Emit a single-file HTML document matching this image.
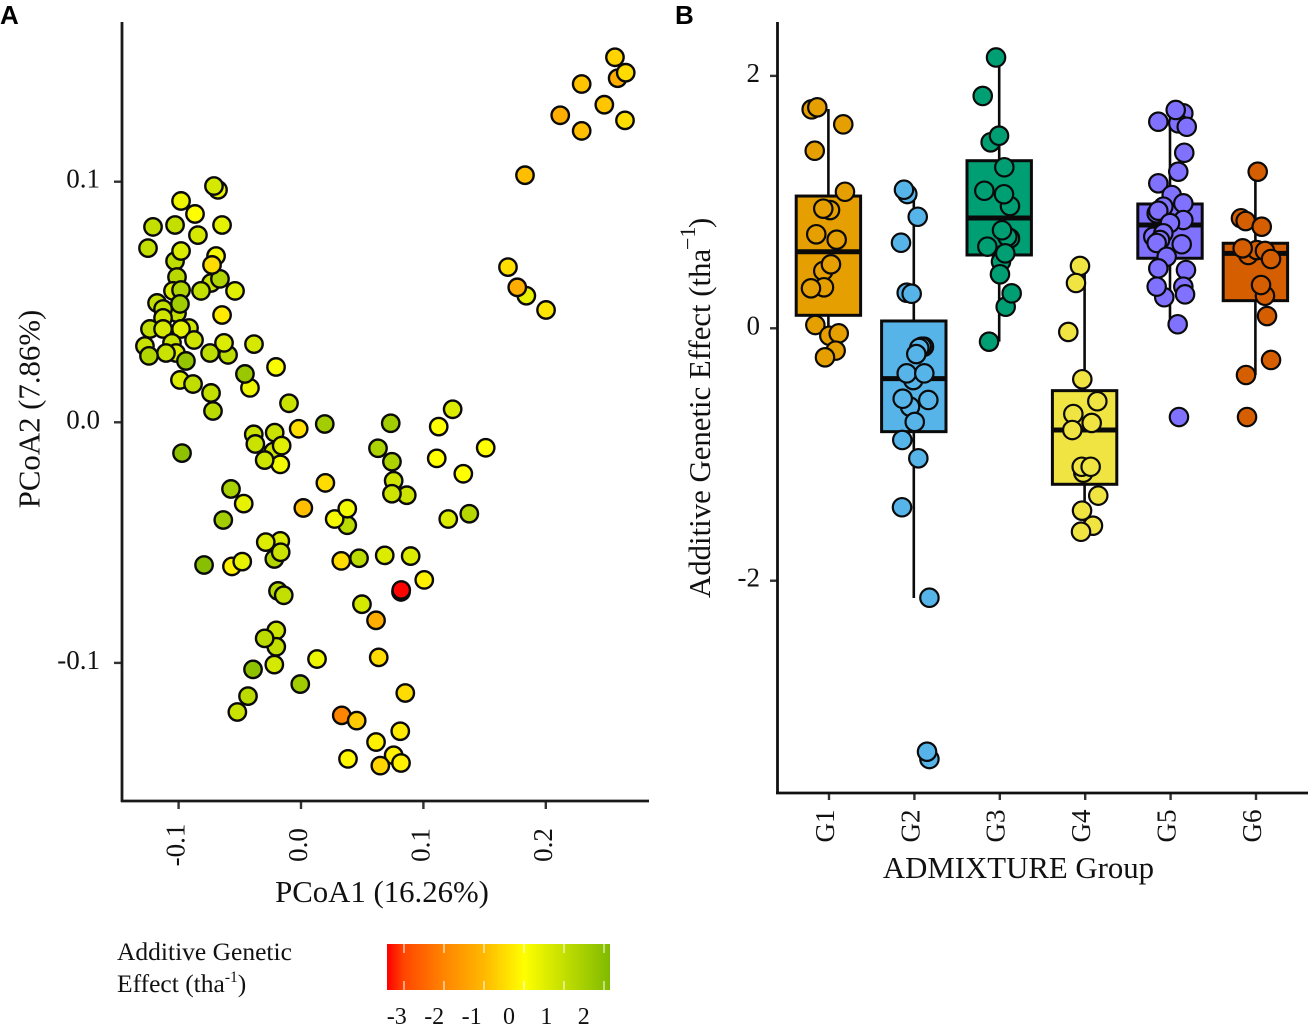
<!DOCTYPE html>
<html lang="en">
<head>
<meta charset="utf-8">
<title>PCoA and additive genetic effect by ADMIXTURE group</title>
<style>
html,body{margin:0;padding:0;background:#fff;}
svg{display:block;}
text{font-family:"Liberation Serif",serif;fill:#111;}
.tag{font-family:"Liberation Sans",sans-serif;font-weight:bold;font-size:26px;fill:#000;}
.title{font-size:30.8px;}
.tick{font-size:27px;}
.leg{font-size:25.5px;}
.legtick{font-size:24px;}
</style>
</head>
<body>
<svg id="fig" xmlns="http://www.w3.org/2000/svg" width="1312" height="1030" viewBox="0 0 1312 1030">
  <defs>
    <linearGradient id="legendGradient" gradientUnits="userSpaceOnUse" x1="387" x2="610" y1="0" y2="0"></linearGradient>
  </defs>
  <rect x="0" y="0" width="1312" height="1030" fill="#fff"/>

  <text class="tag" x="0" y="24">A</text>
  <text class="tag" x="675" y="24">B</text>

  <g id="panelA"></g>
  <line x1="122" y1="22" x2="122" y2="802" stroke="#1a1a1a" stroke-width="2.8"/>
  <line x1="121" y1="801" x2="649" y2="801" stroke="#1a1a1a" stroke-width="2.8"/>
  <text class="title" x="382" y="902" text-anchor="middle">PCoA1 (16.26%)</text>
  <text class="title" transform="translate(39.5,409) rotate(-90)" text-anchor="middle">PCoA2 (7.86%)</text>

  <g id="panelB"></g>
  <line x1="777.5" y1="22" x2="777.5" y2="794" stroke="#111" stroke-width="2.8"/>
  <line x1="776" y1="793" x2="1308" y2="793" stroke="#111" stroke-width="2.8"/>
  <text class="title" x="1018.5" y="878" text-anchor="middle">ADMIXTURE Group</text>
  <g>
    <text class="title" transform="translate(710,598) rotate(-90)">Additive Genetic Effect (tha</text>
    <text style="font-size:22px" transform="translate(695,250) rotate(-90)">−1</text>
    <text class="title" transform="translate(710,228) rotate(-90)">)</text>
  </g>

  <g>
    <text class="leg" x="117" y="960">Additive Genetic</text>
    <text class="leg" x="117" y="992">Effect (tha<tspan style="font-size:15.5px" dy="-10">-1</tspan><tspan dy="10">)</tspan></text>
    <rect x="387" y="944" width="223" height="46" fill="url(#legendGradient)"/>
    <g id="legendTicks"></g>
  </g>
</svg>
<script>
// ---------- Panel A data ----------
const pcoa1 = [
 .2587,.2565,.2653,.2293,.2478,.2118,.2293,.2647,.1830,.1691,.1841,.1767,.2002,
 -.0678,-.0711,-.0980,-.0866,-.1209,-.1029,-.0842,-.0645,-.1250,-.0694,-.1029,-.0980,-.1013,
 -.0735,-.0662,-.0727,-.0539,-.1046,-.0980,-.0817,-.1176,-.1013,-.1127,-.0989,-.0645,-.1127,
 -.1234,-.0915,-.1127,-.0980,-.0874,-.1054,-.1275,-.1021,-.0940,-.1103,-.1242,-.0596,-.0743,
 -.0629,-.0384,-.0204,-.0417,-.0458,-.0989,-.0882,-.0735,-.0719,-.0098,
 -.0386,-.0215,-.0226,-.0373,-.0169,-.0297,-.0158,-.0019,.0194,.0733,.0629,.0743,.0757,.0864,.0743,
 .1125,.1239,.1509,.1109,.1326,.1203,.1375,-.0972,-.0572,-.0468,-.0635,-.0792,-.0564,-.0480,
 .0199,.0019,.0378,.0275,.0378,-.0169,-.0218,-.0288,-.0166,.0329,.0474,.0684,.0896,.1007,.0817,.0819,
 -.0188,-.0141,.0498,.0613,.0635,.0131,-.0202,-.0202,-.0297,-.0218,-.0392,-.0006,-.0433,-.0520,
 .0852,.0333,.0455,.0811,.0613,.0384,.0757,.0648,.0817
];
const pcoa2 = [
 .1430,.1517,.1453,.1406,.1320,.1276,.1211,.1255,.1027,.0645,.0526,.0561,.0467,
 .0966,.0982,.0920,.0866,.0812,.0820,.0778,.0820,.0724,.0691,.0670,.0712,.0604,
 .0579,.0596,.0654,.0546,.0546,.0550,.0546,.0496,.0454,.0471,.0492,.0446,.0434,
 .0388,.0392,.0388,.0388,.0342,.0330,.0317,.0288,.0255,.0288,.0276,.0280,.0288,
 .0330,.0325,.0230,.0143,.0201,.0176,.0159,.0122,.0047,.0079,
 -.0050,-.0043,-.0122,-.0090,-.0175,-.0157,-.0097,-.0027,-.0007,-.0004,-.0108,-.0164,-.0243,-.0303,-.0297,
 -.0018,.0054,-.0106,-.0150,-.0214,-.0402,-.0380,-.0128,-.0277,-.0338,-.0406,-.0593,-.0599,-.0579,
 -.0252,-.0356,-.0428,-.0402,-.0359,-.0493,-.0568,-.0498,-.0540,-.0576,-.0565,-.0553,-.0556,-.0655,-.0705,-.0697,
 -.0701,-.0719,-.0756,-.0823,-.0977,-.0984,-.0865,-.0933,-.0898,-.1007,-.1027,-.1088,-.1138,-.1204,
 -.1125,-.1218,-.1240,-.1284,-.1329,-.1399,-.1384,-.1427,-.1416
];
const additiveEffect = [
 -1.2,-.6,-.5,-.85,-.8,-1.2,-.9,-.45,-.9,-.45,.4,-1.2,-.35,
 .35,.7,.3,0,1,1,.7,.45,1,.15,1.1,.6,1.2,
 .9,1.35,-.5,.5,.6,1.3,1,1,1,1,1.6,-.3,.8,
 1,.8,.7,.45,.8,.9,.9,.6,1.8,.9,1.3,1.1,1.1,
 .6,.7,.1,.3,1.7,.6,1.05,1,1.15,.9,
 .9,.9,.9,.9,.2,.85,.5,-.45,1.55,1.6,1.4,1.4,.8,.85,.85,
 0,.6,0,0,0,.6,1.25,1.9,1.45,.4,1.55,2,-.2,.4,
 -.5,-.9,1.15,.15,.2,.6,1.3,.6,.9,-.5,1.15,.6,.6,-.2,-3.4,-3.4,
 1.25,1,.7,-1.2,-.5,.3,.85,1,1.15,.7,1.9,1.6,1.15,.9,
 -.5,-2,-.75,-.3,-.2,-.1,-.2,-.6,-.2
];
const pcoaXTicks = [-0.1, 0, 0.1, 0.2];
const pcoaXTickLabels = ["-0.1", "0.0", "0.1", "0.2"];
const pcoaYTicks = [0.1, 0, -0.1];
const pcoaYTickLabels = ["0.1", "0.0", "-0.1"];

// ---------- Panel B data ----------
const groupNames = ["G1", "G2", "G3", "G4", "G5", "G6"];
const groupFills = ["#E69F00", "#56B4E9", "#009E73", "#F0E442", "#8072FF", "#D55E00"];
const boxQ1 = [.103, -.819, .581, -1.236, .555, .219];
const boxMedian = [.607, -.399, .874, -.806, .819, .594];
const boxQ3 = [1.048, .058, 1.328, -.494, .985, .674];
const whiskerLow = [-.17, -2.137, -.106, -1.6, .03, -.37];
const whiskerHigh = [1.738, 1.096, 2.146, .5, 1.73, 1.239];
const effectTicks = [2, 0, -2];
const effectTickLabels = ["2", "0", "-2"];

const g1Jitter = [-.196,-.130,.174,-.160,.194,.019,-.060,-.142,.097,-.060,.030,-.052,-.204,-.153,.011,.121,.085,-.040];
const g1Effect = [1.735,1.751,1.616,1.407,1.082,.937,.948,.745,.702,.454,.507,.325,.317,.026,-.059,-.040,-.177,-.230];
const g2Jitter = [-.076,-.115,.046,-.150,-.083,-.025,.119,.093,.064,.029,-.006,-.083,.123,-.044,-.130,.170,.011,-.135,.053,-.138,.183,.183,.155];
const g2Effect = [1.064,1.098,.884,.678,.282,.274,-.146,-.146,-.156,-.204,-.410,-.357,-.357,-.621,-.558,-.568,-.742,-.885,-1.030,-1.418,-2.135,-3.413,-3.355];
const g3Jitter = [-.037,-.193,-.100,-.002,.060,-.174,.126,.056,.126,.095,.033,-.139,.021,.071,.009,.076,.146,-.119];
const g3Effect = [2.146,1.841,1.474,1.526,1.276,1.090,.969,1.062,.713,.726,.777,.647,.528,.594,.428,.171,.277,-.106];
const g4Jitter = [-.054,-.101,-.191,-.027,.149,-.132,.083,-.144,-.015,-.034,.071,.160,-.030,.098,-.042];
const g4Effect = [.494,.359,-.029,-.404,-.578,-.679,-.750,-.806,-1.144,-1.097,-1.097,-1.326,-1.445,-1.564,-1.612];
const g5Jitter = [.156,.097,-.137,.067,.196,.167,.097,-.137,.020,.156,-.078,-.156,-.137,.156,0,-.196,-.078,-.117,-.156,.137,-.039,-.137,.187,.156,-.067,-.156,.176,.090,.105];
const g5Effect = [1.704,1.624,1.637,1.730,1.597,1.391,1.241,1.149,1.056,.990,.964,.911,.932,.858,.834,.726,.753,.700,.676,.666,.567,.475,.462,.330,.246,.330,.269,.032,-.703];
const g6Jitter = [.027,-.169,-.114,.074,-.083,.015,.112,-.149,.183,.112,.066,.136,.183,-.110,-.098];
const g6Effect = [1.241,.872,.850,.805,.581,.620,.613,.634,.549,.258,.343,.097,-.251,-.370,-.703];

// ---------- Legend data ----------
const legendTickValues = [-3, -2, -1, 0, 1, 2];
const legendTickLabels = ["-3", "-2", "-1", "0", "1", "2"];
const colorStopValues = [-3.42, -3, -2, -1, 0, 2.15];
const colorStopReds = [255, 255, 255, 255, 255, 127];
const colorStopGreens = [0, 70, 133, 184, 255, 186];

const NS = "http://www.w3.org/2000/svg";
function node(tag, parent) {
  const el = document.createElementNS(NS, tag);
  parent.appendChild(el);
  return el;
}
function colorFor(v) {
  let i = 0;
  while (i < colorStopValues.length - 2 && v > colorStopValues[i + 1]) i++;
  let t = (v - colorStopValues[i]) / (colorStopValues[i + 1] - colorStopValues[i]);
  t = Math.max(0, Math.min(1, t));
  const r = Math.round(colorStopReds[i] + t * (colorStopReds[i + 1] - colorStopReds[i]));
  const g = Math.round(colorStopGreens[i] + t * (colorStopGreens[i + 1] - colorStopGreens[i]));
  return "rgb(" + r + "," + g + ",0)";
}

// axis functions
const xA = v => 301 + 1224 * v;
const yA = v => 422.3 - 2406 * v;
const xB = i => 828.4 + 85.4 * i;
const yB = v => 328.3 - 126.2 * v;
const xLegend = v => 524 + 40 * v;
const xLegendLabel = v => 509 + 37.4 * v;

// Panel A
const panelA = document.getElementById("panelA");
pcoaXTicks.forEach((v, i) => {
  const t = node("line", panelA);
  
  
  t.setAttribute("x1", xA(v)); t.setAttribute("x2", xA(v));
  t.setAttribute("y1", 801); t.setAttribute("y2", 809);
  t.setAttribute("stroke", "#333"); t.setAttribute("stroke-width", 2.4);
  const l = node("text", panelA);
  
  
  l.setAttribute("class", "tick");
  l.setAttribute("text-anchor", "middle");
  l.setAttribute("transform", "translate(" + (xA(v) + 6) + ",845) rotate(-90)");
  l.textContent = pcoaXTickLabels[i];
});
pcoaYTicks.forEach((v, i) => {
  const t = node("line", panelA);
  
  
  t.setAttribute("x1", 114); t.setAttribute("x2", 122);
  t.setAttribute("y1", yA(v)); t.setAttribute("y2", yA(v));
  t.setAttribute("stroke", "#333"); t.setAttribute("stroke-width", 2.4);
  const l = node("text", panelA);
  
  
  l.setAttribute("class", "tick");
  l.setAttribute("text-anchor", "end");
  l.setAttribute("x", 100);
  l.setAttribute("y", yA(v) + 6);
  l.textContent = pcoaYTickLabels[i];
});
pcoa1.forEach((v, i) => {
  const c = node("circle", panelA);
  
  
  c.setAttribute("cx", xA(v));
  c.setAttribute("cy", yA(pcoa2[i]));
  c.setAttribute("r", 8.7);
  c.setAttribute("fill", colorFor(additiveEffect[i]));
  c.setAttribute("stroke", "#0a0a0a");
  c.setAttribute("stroke-width", 2.4);
});

// Panel B
const panelB = document.getElementById("panelB");
const groupJitters = [g1Jitter, g2Jitter, g3Jitter, g4Jitter, g5Jitter, g6Jitter];
const groupEffects = [g1Effect, g2Effect, g3Effect, g4Effect, g5Effect, g6Effect];
effectTicks.forEach((v, i) => {
  const t = node("line", panelB);
  
  
  t.setAttribute("x1", 770); t.setAttribute("x2", 778);
  t.setAttribute("y1", yB(v)); t.setAttribute("y2", yB(v));
  t.setAttribute("stroke", "#333"); t.setAttribute("stroke-width", 2.4);
  const l = node("text", panelB);
  
  
  l.setAttribute("class", "tick");
  l.setAttribute("text-anchor", "end");
  l.setAttribute("x", 760);
  l.setAttribute("y", yB(v) + 6);
  l.textContent = effectTickLabels[i];
});
groupNames.forEach((name, g) => {
  const cx = xB(g);
  const t = node("line", panelB);
  
  
  t.setAttribute("x1", cx + 0.6); t.setAttribute("x2", cx + 0.6);
  t.setAttribute("y1", 793); t.setAttribute("y2", 800);
  t.setAttribute("stroke", "#333"); t.setAttribute("stroke-width", 2.4);
  const l = node("text", panelB);
  
  
  l.setAttribute("class", "tick");
  l.setAttribute("text-anchor", "middle");
  l.setAttribute("transform", "translate(" + (cx + 5.5) + ",826) rotate(-90)");
  l.textContent = name;

  const w = node("line", panelB);
  
  
  w.setAttribute("x1", cx); w.setAttribute("x2", cx);
  w.setAttribute("y1", yB(whiskerHigh[g])); w.setAttribute("y2", yB(whiskerLow[g]));
  w.setAttribute("stroke", "#0a0a0a"); w.setAttribute("stroke-width", 2.6);

  const b = node("rect", panelB);
  
  
  b.setAttribute("x", cx - 32.2);
  b.setAttribute("width", 64.4);
  b.setAttribute("y", yB(boxQ3[g]));
  b.setAttribute("height", yB(boxQ1[g]) - yB(boxQ3[g]));
  b.setAttribute("fill", groupFills[g]);
  b.setAttribute("stroke", "#0a0a0a");
  b.setAttribute("stroke-width", 3);

  const m = node("line", panelB);
  
  
  m.setAttribute("x1", cx - 32.2); m.setAttribute("x2", cx + 32.2);
  m.setAttribute("y1", yB(boxMedian[g])); m.setAttribute("y2", yB(boxMedian[g]));
  m.setAttribute("stroke", "#0a0a0a"); m.setAttribute("stroke-width", 5);

  groupEffects[g].forEach((v, i) => {
    const c = node("circle", panelB);
    
    
    c.setAttribute("cx", xB(g + groupJitters[g][i]));
    c.setAttribute("cy", yB(v));
    c.setAttribute("r", 9.2);
    c.setAttribute("fill", groupFills[g]);
    c.setAttribute("stroke", "#0a0a0a");
    c.setAttribute("stroke-width", 2.2);
  });
});

// Legend
const gradient = document.getElementById("legendGradient");
colorStopValues.forEach(v => {
  const s = node("stop", gradient);
  s.setAttribute("offset", (xLegend(v) - 387) / 223);
  s.setAttribute("stop-color", colorFor(v));
});
const legendTicks = document.getElementById("legendTicks");
legendTickValues.forEach((v, i) => {
  const t1 = node("line", legendTicks);
  
  
  t1.setAttribute("x1", xLegend(v)); t1.setAttribute("x2", xLegend(v));
  t1.setAttribute("y1", 944); t1.setAttribute("y2", 953);
  t1.setAttribute("stroke", "#fff"); t1.setAttribute("stroke-width", 1);
  const t2 = node("line", legendTicks);
  
  
  t2.setAttribute("x1", xLegend(v)); t2.setAttribute("x2", xLegend(v));
  t2.setAttribute("y1", 981); t2.setAttribute("y2", 990);
  t2.setAttribute("stroke", "#fff"); t2.setAttribute("stroke-width", 1);
  const l = node("text", legendTicks);
  
  
  l.setAttribute("class", "legtick");
  l.setAttribute("text-anchor", "middle");
  l.setAttribute("x", xLegendLabel(v));
  l.setAttribute("y", 1024);
  l.textContent = legendTickLabels[i];
});
</script>
</body>
</html>
